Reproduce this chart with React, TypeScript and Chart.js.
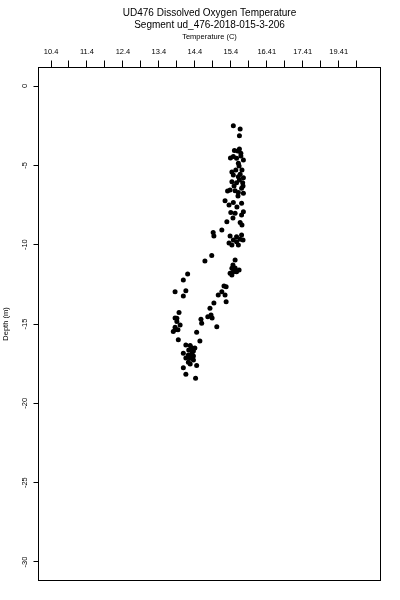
import React, { useEffect, useRef } from 'react';
import { Chart, registerables } from 'chart.js';

Chart.register(...registerables);

const titleLines = ['UD476 Dissolved Oxygen Temperature', 'Segment ud_476-2018-015-3-206'];
const xAxisTitle = 'Temperature (C)';
const yAxisTitle = 'Depth (m)';

const xMin = 10.052;
const xMax = 19.563;
const yMin = -31.166;
const yMax = 1.166;

const xTickValues = [10.4, 10.9, 11.4, 11.9, 12.4, 12.9, 13.4, 13.9, 14.4, 14.9, 15.4, 15.9, 16.4, 16.9, 17.4, 17.9, 18.4, 18.9];
const xTickLabels = ['10.4', '', '11.4', '', '12.4', '', '13.4', '', '14.4', '', '15.4', '', '16.41', '', '17.41', '', '19.41', ''];
const yTickValues = [0, -5, -10, -15, -20, -25, -30];

const temperature = [
  15.47, 15.66, 15.64, 15.64, 15.59, 15.68, 15.47, 15.56, 15.75, 15.61,
  15.54, 15.47, 15.61, 15.75, 15.66, 15.43, 15.56, 15.73, 15.38, 15.52,
  15.61, 15.70, 15.75, 15.24, 15.47, 15.70, 15.40, 15.52, 15.75, 15.70,
  15.29, 15.66, 15.15, 14.91, 14.93, 15.56, 15.70, 15.47, 15.66, 15.56,
  15.43, 15.61, 14.87, 14.68, 15.52, 15.43, 15.47, 15.56, 15.38, 15.27,
  15.15, 15.24, 15.05, 15.27, 14.82, 14.85, 14.76, 14.20, 14.08, 13.85,
  14.15, 14.08, 13.96, 13.90, 13.90, 13.99, 13.85, 14.57, 14.59, 15.01,
  13.85, 13.80, 13.94, 14.45, 14.54, 14.27, 14.31, 14.36, 14.08, 14.22,
  14.31, 14.27, 14.36, 14.22, 14.45, 14.08, 14.15, 14.42,
  15.50, 15.68, 15.39, 15.63, 15.71, 15.43, 15.64, 15.49, 15.74, 15.31,
  15.60, 15.35, 15.57, 15.46, 15.71, 15.38, 15.74, 15.35,
  15.46, 15.52, 15.63, 15.43, 15.21, 14.93, 14.88, 14.15, 14.40, 14.23,
  14.32, 14.15, 14.36, 14.27, 13.93, 13.85,
];

const depth = [
  -2.50, -2.71, -3.13, -3.97, -4.10, -4.24, -4.45, -4.56, -4.66, -4.87,
  -5.29, -5.61, -5.72, -5.78, -5.56, -6.03, -6.09, -6.09, -6.55, -6.60,
  -6.72, -6.45, -6.76, -7.23, -7.35, -7.39, -7.98, -8.02, -7.92, -8.13,
  -8.55, -8.61, -9.07, -9.24, -9.45, -9.50, -9.39, -9.70, -9.66, -9.81,
  -10.02, -10.02, -10.69, -11.03, -10.96, -11.49, -11.70, -11.70, -11.80, -12.65,
  -12.96, -13.17, -13.17, -13.59, -14.01, -14.43, -14.54, -11.85, -12.22, -12.96,
  -12.90, -13.23, -14.28, -14.64, -14.85, -15.06, -15.21, -14.70, -14.95, -15.17,
  -15.37, -15.48, -16.00, -15.52, -16.07, -16.36, -16.49, -16.70, -16.84, -16.95,
  -16.95, -17.16, -17.27, -17.41, -17.62, -17.75, -18.17, -18.42,
  -4.06, -4.41, -4.54, -5.04, -5.29, -5.42, -5.92, -6.30, -6.30, -6.62,
  -6.93, -7.50, -7.62, -8.32, -8.76, -9.45, -9.70, -9.89,
  -11.28, -11.47, -11.60, -11.91, -12.60, -13.67, -14.62, -16.32, -16.51, -16.64,
  -16.82, -17.14, -17.01, -17.52, -15.37, -14.62,
];

const FONT = '"Liberation Sans", Arial, Helvetica, sans-serif';

const frameBox = {
  id: 'frameBox',
  afterDraw(chart: any) {
    const { ctx, chartArea } = chart;
    const l = Math.floor(chartArea.left) + 0.5;
    const t = Math.floor(chartArea.top) + 0.5;
    const r = Math.floor(chartArea.right) + 0.5;
    const b = Math.floor(chartArea.bottom) + 0.5;
    ctx.save();
    ctx.strokeStyle = '#000';
    ctx.lineWidth = 1;
    ctx.strokeRect(l, t, r - l, b - t);
    ctx.restore();
  },
};

export default function App() {
  const canvasRef = useRef<HTMLCanvasElement | null>(null);

  useEffect(() => {
    const canvas = canvasRef.current;
    if (!canvas) return;
    const points = temperature.map((t, i) => ({ x: t, y: depth[i] }));
    const chart = new Chart(canvas, {
      type: 'scatter',
      data: {
        datasets: [
          {
            data: points,
            pointRadius: 2.5,
            pointBackgroundColor: '#000',
            pointBorderWidth: 0,
            pointBorderColor: '#000',
          },
        ],
      },
      plugins: [frameBox],
      options: {
        responsive: false,
        animation: false,
        devicePixelRatio: 1,
        color: '#000',
        layout: { padding: { left: 0, right: 19.5, top: 0, bottom: 19.5 } },
        plugins: {
          legend: { display: false },
          tooltip: { enabled: false },
          title: {
            display: true,
            text: titleLines,
            fullSize: false,
            color: '#000',
            font: { family: FONT, size: 10, weight: 'normal', lineHeight: 1.15 },
            padding: { top: 7.5, bottom: 0 },
          },
        },
        scales: {
          x: {
            type: 'linear',
            position: 'top',
            min: xMin,
            max: xMax,
            afterBuildTicks: (scale: any) => {
              scale.ticks = xTickValues.map((v) => ({ value: v }));
            },
            afterFit: (scale: any) => {
              scale.height = 37;
            },
            border: { display: false },
            grid: { display: true, drawOnChartArea: false, drawTicks: true, tickLength: 7, color: '#000', tickColor: '#000' },
            ticks: {
              autoSkip: false,
              maxRotation: 0,
              minRotation: 0,
              padding: 3.7,
              color: '#000',
              font: { family: FONT, size: 7.5 },
              callback: (_v: any, i: number) => xTickLabels[i],
            },
            title: {
              display: true,
              text: xAxisTitle,
              color: '#000',
              font: { family: FONT, size: 7.5 },
              padding: { top: 2.4, bottom: 0 },
            },
          },
          y: {
            type: 'linear',
            position: 'left',
            min: yMin,
            max: yMax,
            afterBuildTicks: (scale: any) => {
              scale.ticks = yTickValues.map((v) => ({ value: v }));
            },
            afterFit: (scale: any) => {
              scale.width = 38.5;
            },
            border: { display: false },
            grid: { display: true, drawOnChartArea: false, drawTicks: true, tickLength: 5, color: '#000', tickColor: '#000' },
            ticks: {
              autoSkip: false,
              minRotation: 90,
              maxRotation: 90,
              crossAlign: 'center',
              padding: 3.6,
              color: '#000',
              font: { family: FONT, size: 7.5 },
            },
            title: {
              display: true,
              text: yAxisTitle,
              color: '#000',
              font: { family: FONT, size: 7.5 },
              padding: { top: 1.5, bottom: 0 },
            },
          },
        },
      },
    } as any);
    return () => chart.destroy();
  }, []);

  return (
    <div style={{ position: 'fixed', left: 0, top: 0, width: 400, height: 600, background: '#fff' }}>
      <canvas ref={canvasRef} width={400} height={600} style={{ display: 'block' }} />
    </div>
  );
}
